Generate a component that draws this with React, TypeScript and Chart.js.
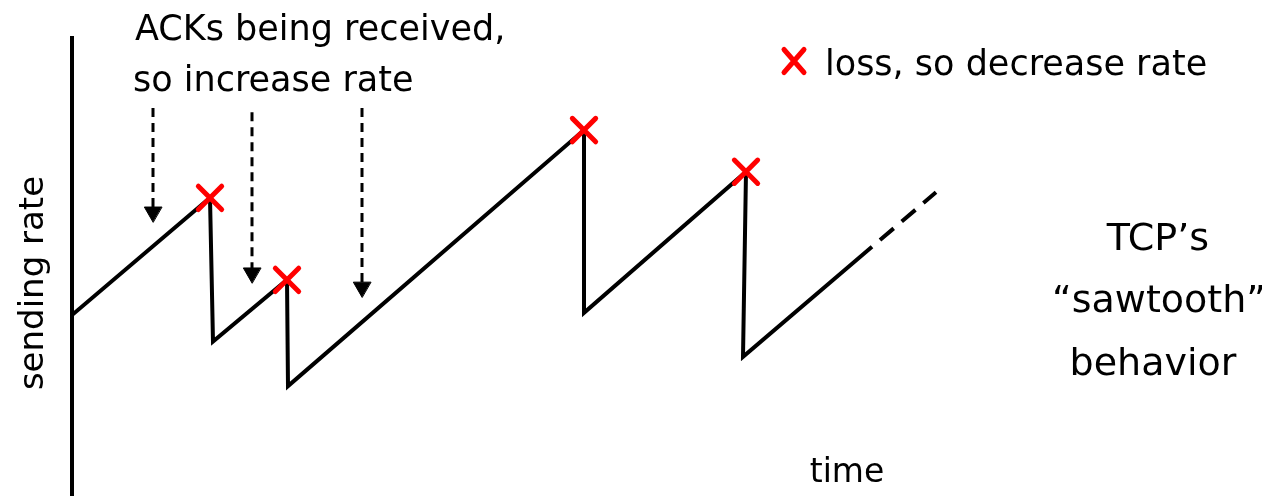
import React, { useEffect, useRef } from "react";
import { Chart, registerables } from "chart.js";

Chart.register(...registerables);

// Sawtooth trace (time, sending rate)
const sawTimes = [0, 13.8, 14.1, 21.5, 21.6, 51.2, 51.2, 67.4, 67.1, 80.0, 86.4];
const sawRates = [39.5, 65.1, 33.7, 47.2, 24.0, 79.9, 40.0, 70.8, 30.4, 54.4, 66.3];
// indices of the sawtooth points where a loss happens
const lossIndices = [1, 3, 5, 7];
// dashed "ACK" arrows
const arrowTimes = [8.1, 18.0, 29.0];
const arrowStartRates = [84.7, 83.8, 84.7];
const arrowHeadRates = [62.0, 48.7, 45.6];
// texts
const ackLines = ["ACKs being received,", "so increase rate"];
const legendLabel = "loss, so decrease rate";
const sideLines = ["TCP\u2019s", "\u201csawtooth\u201d", "behavior"];
const xTitle = "time";
const yTitle = "sending rate";

const FONT = '"DejaVu Sans", sans-serif';

const annotationPlugin = {
  id: "annotations",
  beforeDatasetDraw(chart: any) {
    chart.ctx.lineCap = "round";
  },
  afterDatasetDraw(chart: any) {
    chart.ctx.lineCap = "butt";
  },
  afterDraw(chart: any) {
    const ctx: CanvasRenderingContext2D = chart.ctx;
    ctx.save();
    ctx.fillStyle = "#000";
    ctx.textBaseline = "alphabetic";

    ctx.font = `35px ${FONT}`;
    ctx.textAlign = "left";
    ctx.fillText(ackLines[0], 135, 40);
    ctx.fillText(ackLines[1], 133, 91);
    ctx.fillText(legendLabel, 825, 75);

    // legend marker
    ctx.strokeStyle = "#ff0000";
    ctx.lineWidth = 5;
    ctx.lineCap = "round";
    const cx = 794;
    const cy = 61;
    const hx = 10;
    const hy = 11.5;
    ctx.beginPath();
    ctx.moveTo(cx - hx, cy - hy);
    ctx.lineTo(cx + hx, cy + hy);
    ctx.moveTo(cx + hx, cy - hy);
    ctx.lineTo(cx - hx, cy + hy);
    ctx.stroke();

    ctx.font = `38px ${FONT}`;
    ctx.textAlign = "center";
    ctx.fillText(sideLines[0], 1158, 250);
    ctx.fillText(sideLines[1], 1159, 312);
    ctx.fillText(sideLines[2], 1153, 375);

    ctx.font = `33px ${FONT}`;
    ctx.fillText(xTitle, 847, 482);

    ctx.font = `34px ${FONT}`;
    ctx.translate(43, 283);
    ctx.rotate(-Math.PI / 2);
    ctx.fillText(yTitle, 0, 0);
    ctx.restore();
  },
};

export default function App() {
  const canvasRef = useRef<HTMLCanvasElement | null>(null);

  useEffect(() => {
    if (!canvasRef.current) return;
    const sawData = sawTimes.map((t, i) => ({ x: t, y: sawRates[i] }));
    const lossData = lossIndices.map((i) => ({ x: sawTimes[i], y: sawRates[i] }));
    const lastSeg = sawTimes.length - 2;

    const arrowSets = arrowTimes.map((t, i) => ({
      type: "line" as const,
      data: [
        { x: t, y: arrowStartRates[i] },
        { x: t, y: arrowHeadRates[i] },
      ],
      borderColor: "#000",
      borderWidth: 3,
      borderDash: [9, 6],
      pointRadius: [0, 10],
      pointStyle: "triangle",
      rotation: 180,
      pointBackgroundColor: "#000",
      pointBorderColor: "#000",
      pointBorderWidth: 1,
      fill: false,
    }));

    const chart = new Chart(canvasRef.current, {
      type: "line",
      data: {
        datasets: [
          {
            data: lossData,
            showLine: false,
            pointStyle: "crossRot",
            pointRadius: 16.5,
            pointBorderWidth: 5,
            pointBorderColor: "#ff0000",
            pointBackgroundColor: "#ff0000",
          },
          {
            data: sawData,
            borderColor: "#000",
            borderWidth: 4,
            pointRadius: 0,
            tension: 0,
            fill: false,
            segment: {
              borderDash: (c: any) => (c.p0DataIndex === lastSeg ? [18, 10.5] : undefined),
              borderDashOffset: (c: any) => (c.p0DataIndex === lastSeg ? 18 : 0),
            },
          },
          ...arrowSets,
        ] as any,
      },
      options: {
        responsive: false,
        animation: false,
        events: [],
        layout: { autoPadding: false, padding: { left: 72, right: 190, top: 38, bottom: 0 } },
        plugins: {
          legend: { display: false },
          tooltip: { enabled: false },
          title: { display: false },
        },
        scales: {
          x: { type: "linear", display: false, min: 0, max: 100 },
          y: {
            type: "linear",
            display: true,
            min: 0,
            max: 100,
            ticks: { display: false },
            grid: { display: false, drawTicks: false },
            border: { display: true, width: 4, color: "#000" },
            afterFit: (s: any) => {
              s.width = 0;
            },
          },
        },
      } as any,
      plugins: [annotationPlugin],
    });
    return () => chart.destroy();
  }, []);

  return (
    <div style={{ position: "absolute", left: 0, top: 0, width: 1262, height: 496, background: "#fff" }}>
      <canvas ref={canvasRef} width={1262} height={496} style={{ display: "block" }} />
    </div>
  );
}
